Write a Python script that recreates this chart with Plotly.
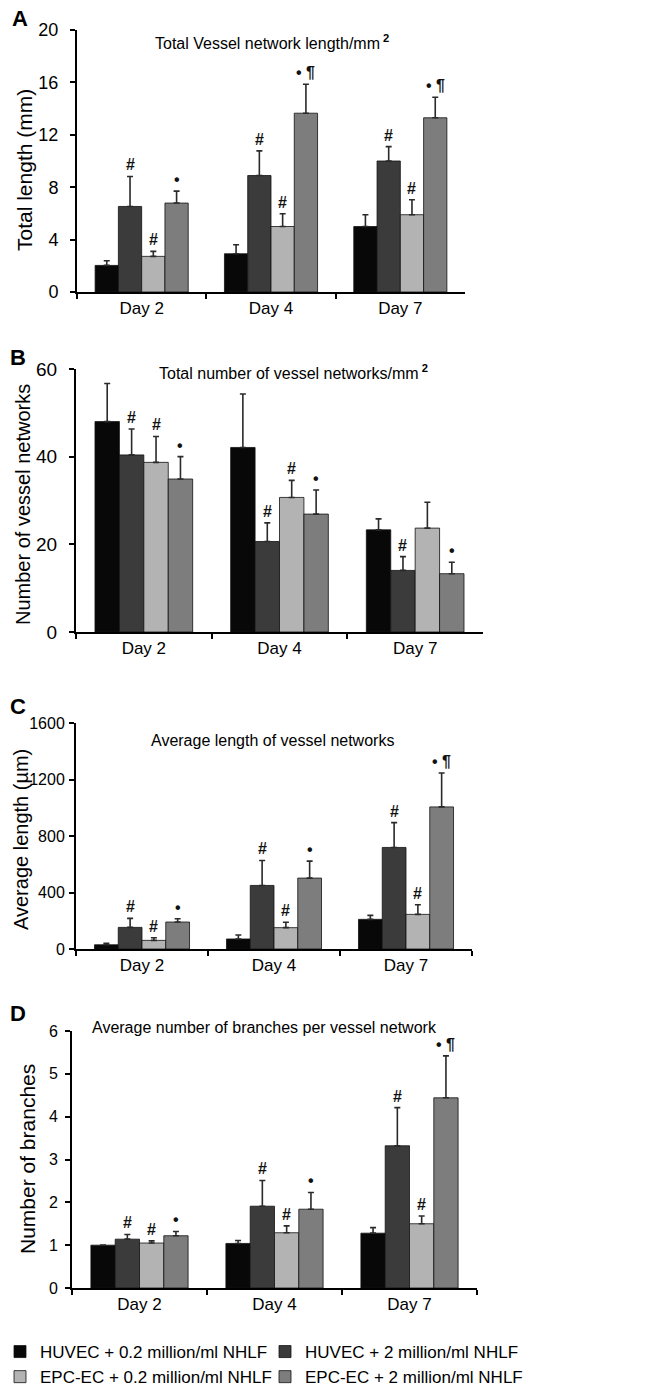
import plotly.graph_objects as go

W, H = 663, 1388

days = ["Day 2", "Day 4", "Day 7"]
series_names = [
    "HUVEC + 0.2 million/ml NHLF",
    "HUVEC + 2 million/ml NHLF",
    "EPC-EC + 0.2 million/ml NHLF",
    "EPC-EC + 2 million/ml NHLF",
]
colors = ["#080808", "#3b3b3b", "#b3b3b3", "#7d7d7d"]

# Panel A: total vessel network length (mm) per mm^2
a_mean = [[2.03, 2.92, 5.0], [6.53, 8.89, 10.0], [2.72, 5.0, 5.9], [6.79, 13.65, 13.3]]
a_top = [[2.39, 3.61, 5.9], [8.82, 10.77, 11.1], [3.1, 5.97, 7.04], [7.7, 15.86, 14.87]]
a_marks = [["", "", ""], ["#", "#", "#"], ["#", "#", "#"], ["•", "• ¶", "• ¶"]]

# Panel B: total number of vessel networks per mm^2
b_mean = [[48.0, 42.1, 23.3], [40.4, 20.65, 14.05], [38.7, 30.7, 23.7], [34.9, 26.9, 13.3]]
b_top = [[56.7, 54.3, 25.8], [46.3, 24.9, 17.2], [44.6, 34.6, 29.6], [40.0, 32.4, 15.9]]
b_marks = [["", "", ""], ["#", "#", "#"], ["#", "#", ""], ["•", "•", "•"]]

# Panel C: average length of vessel networks (um)
c_mean = [[30, 71, 210], [153, 450, 719], [61, 151, 245], [191, 502, 1006]]
c_top = [[40, 99, 238], [217, 627, 895], [80, 189, 313], [214, 622, 1246]]
c_marks = [["", "", ""], ["#", "#", "#"], ["#", "#", "#"], ["•", "•", "• ¶"]]

# Panel D: average number of branches per vessel network
d_mean = [[1.0, 1.04, 1.28], [1.14, 1.91, 3.32], [1.05, 1.29, 1.50], [1.22, 1.84, 4.44]]
d_top = [[1.0, 1.11, 1.41], [1.25, 2.51, 4.21], [1.1, 1.45, 1.68], [1.32, 2.23, 5.42]]
d_marks = [["", "", ""], ["#", "#", "#"], ["#", "#", "#"], ["•", "•", "• ¶"]]

SUP2 = "<sup> <b>2</b></sup>"
panels = [
    dict(letter="A", title="Total Vessel network length/mm" + SUP2, ytitle="Total length (mm)",
         mean=a_mean, top=a_top, marks=a_marks, yrange=[0, 20], dtick=4,
         x=(77, 465), y=(30, 292), tfont=18, tls=8, ytsize=21, ytitle_xy=(24, 170),
         title_xy=(272, 42), letter_xy=(20, 18)),
    dict(letter="B", title="Total number of vessel networks/mm" + SUP2, ytitle="Number of vessel networks",
         mean=b_mean, top=b_top, marks=b_marks, yrange=[0, 60], dtick=20,
         x=(76, 483), y=(369, 632), tfont=19, tls=8, ytsize=20, ytitle_xy=(23, 505),
         title_xy=(293, 372), letter_xy=(18, 357)),
    dict(letter="C", title="Average length of vessel networks", ytitle="Average length (µm)",
         mean=c_mean, top=c_top, marks=c_marks, yrange=[0, 1600], dtick=400,
         x=(76, 472), y=(723, 949), tfont=16, tls=1, ytsize=20, ytitle_xy=(21, 840),
         title_xy=(272, 740), letter_xy=(18, 706)),
    dict(letter="D", title="Average number of branches per vessel network", ytitle="Number of branches",
         mean=d_mean, top=d_top, marks=d_marks, yrange=[0, 6], dtick=1,
         x=(72, 477), y=(1031, 1288), tfont=16, tls=4, ytsize=21, ytitle_xy=(27, 1159),
         title_xy=(264, 1027), letter_xy=(18, 1013)),
]

FONT = "Liberation Sans, Arial, sans-serif"
fig = go.Figure()
annotations = []
offsets = [-0.27, -0.09, 0.09, 0.27]

for p_i, p in enumerate(panels):
    sfx = "" if p_i == 0 else str(p_i + 1)
    xa, ya = "x" + sfx, "y" + sfx
    for s in range(4):
        mean = p["mean"][s]
        top = p["top"][s]
        fig.add_trace(go.Bar(
            x=days, y=mean, name=series_names[s], xaxis=xa, yaxis=ya,
            marker=dict(color=colors[s], line=dict(color="#111111", width=0.8)),
            error_y=dict(type="data", symmetric=False,
                         array=[t - m for t, m in zip(top, mean)],
                         arrayminus=[0, 0, 0], color="#2a2a2a", thickness=1.6, width=3),
            showlegend=(p_i == 0), legendgroup=str(s),
        ))
        for d in range(3):
            mk = p["marks"][s][d]
            if mk:
                annotations.append(dict(
                    x=d + offsets[s], y=top[d], xref=xa, yref=ya, text="<b>" + mk + "</b>",
                    showarrow=False, yanchor="bottom", xanchor="center", yshift=1,
                    font=dict(size=16, color="#111111", family=FONT)))
    x0, x1 = p["x"]
    y0, y1 = p["y"]
    fig.layout["xaxis" + sfx] = dict(
        domain=[x0 / W, x1 / W], anchor=ya, type="category", automargin=False,
        showline=True, linecolor="black", linewidth=2, ticks="outside", tickson="boundaries",
        ticklen=5, tickwidth=1.5, tickcolor="black", showgrid=False,
        tickfont=dict(size=17, color="black", family=FONT), fixedrange=True)
    fig.layout["yaxis" + sfx] = dict(
        domain=[1 - y1 / H, 1 - y0 / H], anchor=xa, range=p["yrange"], dtick=p["dtick"],
        automargin=False,
        showline=True, linecolor="black", linewidth=2, ticks="outside", ticklen=5,
        tickwidth=1.5, tickcolor="black", showgrid=False, zeroline=False,
        ticklabelstandoff=p["tls"],
        tickfont=dict(size=p["tfont"], color="black", family=FONT),
        fixedrange=True)
    yx, yy = p["ytitle_xy"]
    annotations.append(dict(x=yx / W, y=1 - yy / H, xref="paper", yref="paper", text=p["ytitle"],
                            showarrow=False, xanchor="center", yanchor="middle", textangle=-90,
                            font=dict(size=p["ytsize"], color="black", family=FONT)))
    tx, ty = p["title_xy"]
    annotations.append(dict(x=tx / W, y=1 - ty / H, xref="paper", yref="paper", text=p["title"],
                            showarrow=False, xanchor="center", yanchor="middle",
                            font=dict(size=16, color="black", family=FONT)))
    lx, ly = p["letter_xy"]
    annotations.append(dict(x=lx / W, y=1 - ly / H, xref="paper", yref="paper",
                            text="<b>" + p["letter"] + "</b>", showarrow=False,
                            xanchor="center", yanchor="middle",
                            font=dict(size=22, color="black", family=FONT)))

fig.update_layout(
    width=W, height=H, margin=dict(l=0, r=0, t=0, b=0, autoexpand=False),
    paper_bgcolor="white", plot_bgcolor="white",
    barmode="group", bargap=0.28, bargroupgap=0,
    annotations=annotations,
    legend=dict(orientation="h", x=0.0, y=-7 / H, xanchor="left", yanchor="bottom",
                entrywidth=220, entrywidthmode="pixels", tracegroupgap=0,
                font=dict(size=17, color="black", family=FONT), traceorder="normal",
                itemwidth=30),
    font=dict(family=FONT, color="black"),
)

fig.write_html("out.html", config={"displayModeBar": False},
               post_script="document.body.style.margin='0';")
